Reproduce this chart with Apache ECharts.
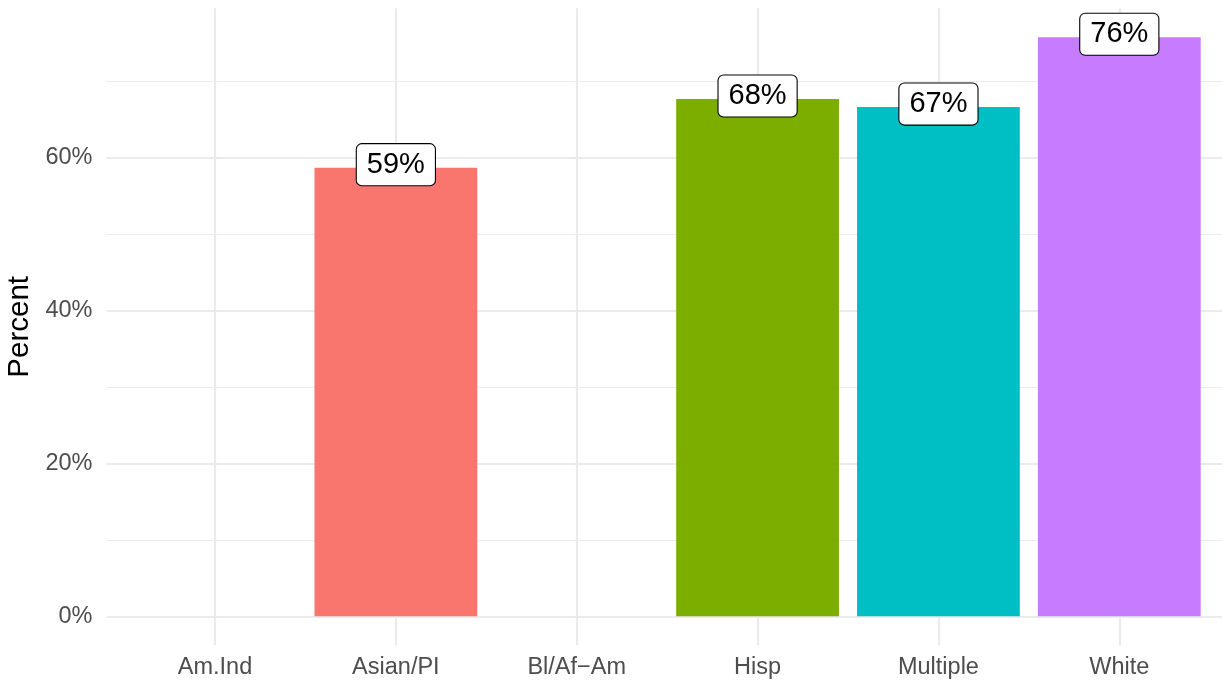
<!DOCTYPE html>
<html>
<head>
<meta charset="utf-8">
<script src="https://cdn.jsdelivr.net/npm/echarts@6/dist/echarts.min.js"></script>
<style>html,body{margin:0;padding:0;background:#fff;}#chart{width:1222px;height:684px;}</style>
</head>
<body>
<div id="chart"></div>
<script>
// ---- data ----
const categories = ['Am.Ind', 'Asian/PI', 'Bl/Af\u2212Am', 'Hisp', 'Multiple', 'White'];
const percentValues = [null, 58.70, null, 67.69, 66.64, 75.77];
const majorTicks = [0, 20, 40, 60];
const minorTicks = [10, 30, 50, 70];
const categoryPositions = [0, 1, 2, 3, 4, 5];

// ---- style ----
const barColors = [null, '#F8766D', null, '#7CAE00', '#00BFC4', '#C77CFF'];
const maxVal = Math.max.apply(null, percentValues.filter(v => v != null));
const yMin = -0.05 * maxVal, yMax = 1.05 * maxVal;
const FONT = '"Liberation Sans", Arial, Helvetica, sans-serif';
const GRID_COLOR = '#ebebeb';
const panelTop = 8.3, panelHeight = 637;
const catSpacing = 180.86;
const firstCenter = 215;
const panelLeft = firstCenter - 0.6 * catSpacing;
const panelRight = 1222;
const xMaxVisible = (panelRight - firstCenter) / catSpacing;

const chart = echarts.init(document.getElementById('chart'), null, {renderer: 'canvas'});
chart.setOption({
  backgroundColor: '#ffffff',
  animation: false,
  grid: [
    {left: panelLeft, top: panelTop, width: panelRight - panelLeft, height: panelHeight,
     containLabel: false, outerBoundsMode: 'none'},
    {left: firstCenter - 0.5 * catSpacing, top: panelTop, width: 6 * catSpacing, height: panelHeight,
     containLabel: false, outerBoundsMode: 'none'}
  ],
  xAxis: [
    {
      gridIndex: 0, type: 'value', min: -0.6, max: xMaxVisible,
      axisLine: {show: false}, axisLabel: {show: false},
      axisTick: {show: false, customValues: categoryPositions},
      splitLine: {show: true, lineStyle: {color: GRID_COLOR, width: 2.2}}
    },
    {
      gridIndex: 1, type: 'category', data: categories,
      axisLine: {show: false}, axisTick: {show: false}, splitLine: {show: false},
      axisLabel: {show: true, interval: 0, fontFamily: FONT, fontSize: 23.5, color: '#4d4d4d', margin: 10.5}
    }
  ],
  yAxis: [
    {
      gridIndex: 0, type: 'value', min: yMin, max: yMax,
      axisLine: {show: false},
      axisTick: {show: false, customValues: majorTicks},
      axisLabel: {show: true, customValues: majorTicks, formatter: v => Math.round(v) + '%',
        fontFamily: FONT, fontSize: 23.5, color: '#4d4d4d', margin: 14},
      splitLine: {show: true, lineStyle: {color: GRID_COLOR, width: 2.2}},
      name: 'Percent', nameLocation: 'middle', nameRotate: 90, nameGap: 72,
      nameTextStyle: {fontFamily: FONT, fontSize: 29.5, color: '#000000'}
    },
    {
      gridIndex: 0, type: 'value', min: yMin, max: yMax,
      axisLine: {show: false}, axisLabel: {show: false},
      axisTick: {show: false, customValues: minorTicks},
      splitLine: {show: true, lineStyle: {color: GRID_COLOR, width: 1.1}}
    },
    {
      gridIndex: 1, type: 'value', min: yMin, max: yMax,
      axisLine: {show: false}, axisLabel: {show: false}, axisTick: {show: false},
      splitLine: {show: false}
    }
  ],
  series: [{
    type: 'bar',
    xAxisIndex: 1, yAxisIndex: 2,
    barWidth: '90%',
    data: percentValues.map((v, i) => ({value: v, itemStyle: {color: barColors[i]}})),
    label: {
      show: true, position: 'top', distance: -17.5,
      formatter: p => (p.value == null ? '' : Math.round(p.value) + '%'),
      fontFamily: FONT, fontSize: 29, lineHeight: 29, color: '#000000',
      backgroundColor: '#ffffff', borderColor: '#000000', borderWidth: 1.1,
      borderRadius: 5, padding: [6, 10]
    }
  }]
});
</script>
</body>
</html>
